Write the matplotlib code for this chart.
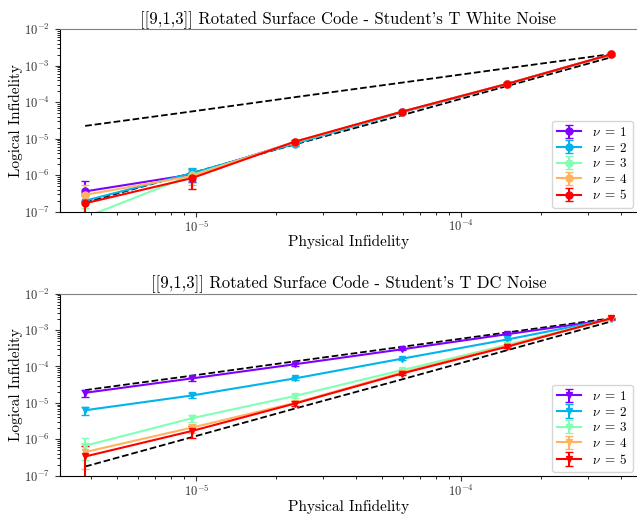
import matplotlib
matplotlib.use('Agg')
import matplotlib.pyplot as plt
import numpy as np

plt.rcParams['font.family'] = ['cmr10', 'DejaVu Serif']
plt.rcParams['mathtext.fontset'] = 'cm'
plt.rcParams['axes.formatter.use_mathtext'] = True

# physical infidelity
p = [3.8e-6, 9.6e-6, 2.35e-5, 5.95e-5, 1.49e-4, 3.68e-4]

# reference lines (linear and quadratic)
ref_lin = [2.25e-5, 5.6e-5, 1.38e-4, 3.45e-4, 8.6e-4, 2.1e-3]
ref_quad = [1.8e-7, 1.15e-6, 7.0e-6, 4.4e-5, 2.8e-4, 1.72e-3]

nus = [1, 2, 3, 4, 5]

# White noise
white = {
    1: [3.6e-7, 1.05e-6, 8.0e-6, 5.4e-5, 3.2e-4, 2.05e-3],
    2: [2.0e-7, 1.13e-6, 7.3e-6, 5.3e-5, 3.15e-4, 2.05e-3],
    3: [7.0e-8, 1.0e-6, 8.0e-6, 5.5e-5, 3.2e-4, 2.05e-3],
    4: [2.9e-7, 9.5e-7, 8.3e-6, 5.5e-5, 3.2e-4, 2.05e-3],
    5: [1.7e-7, 8.3e-7, 8.3e-6, 5.5e-5, 3.2e-4, 2.07e-3],
}
white_err = {
    1: [3.2e-7, 4.0e-7, 9e-7, 3e-6, 1e-5, 3e-5],
    2: [1.2e-7, 4.5e-7, 9e-7, 3e-6, 1e-5, 3e-5],
    3: [6e-8, 4.0e-7, 9e-7, 3e-6, 1e-5, 3e-5],
    4: [2.5e-7, 4.0e-7, 9e-7, 3e-6, 1e-5, 3e-5],
    5: [1.2e-7, 4.0e-7, 9e-7, 3e-6, 1e-5, 3e-5],
}

# DC noise
dc = {
    1: [1.9e-5, 4.7e-5, 1.15e-4, 2.95e-4, 7.7e-4, 1.95e-3],
    2: [6.3e-6, 1.6e-5, 4.7e-5, 1.63e-4, 5.5e-4, 2.0e-3],
    3: [6.7e-7, 3.8e-6, 1.55e-5, 7.9e-5, 3.9e-4, 2.05e-3],
    4: [4.5e-7, 2.1e-6, 1.0e-5, 6.8e-5, 3.7e-4, 2.05e-3],
    5: [3.4e-7, 1.7e-6, 9.6e-6, 6.4e-5, 3.5e-4, 2.1e-3],
}
dc_err = {
    1: [4e-6, 6e-6, 1.2e-5, 2e-5, 4e-5, 5e-5],
    2: [1.5e-6, 2.5e-6, 5e-6, 1e-5, 3e-5, 5e-5],
    3: [4e-7, 8e-7, 2e-6, 5e-6, 2e-5, 5e-5],
    4: [3e-7, 6e-7, 1.5e-6, 4e-6, 2e-5, 5e-5],
    5: [3e-7, 6e-7, 1.5e-6, 4e-6, 2e-5, 5e-5],
}

colors = plt.cm.rainbow(np.linspace(0, 1, len(nus)))

fig = plt.figure(figsize=(6.37, 5.15), dpi=100)
ax1 = fig.add_axes([0.094, 0.589, 0.906, 0.354])
ax2 = fig.add_axes([0.094, 0.076, 0.906, 0.354])

panels = [
    (ax1, white, white_err, 'o', "[[9,1,3]] Rotated Surface Code - Student's T White Noise"),
    (ax2, dc, dc_err, 'v', "[[9,1,3]] Rotated Surface Code - Student's T DC Noise"),
]

for ax, data, err, marker, title in panels:
    ax.plot(p, ref_lin, 'k--', lw=1.3, zorder=1)
    ax.plot(p, ref_quad, 'k--', lw=1.3, zorder=1)
    for nu, c in zip(nus, colors):
        ax.errorbar(p, data[nu], yerr=err[nu], color=c, marker=marker, ms=5,
                    lw=1.5, capsize=3, label=r'$\nu\;=\;%d$' % nu, zorder=2)
    ax.set_xscale('log')
    ax.set_yscale('log')
    ax.set_xlim(3.05e-6, 4.6e-4)
    ax.set_ylim(1e-7, 1e-2)
    ax.set_title(title, fontsize=12, pad=4)
    ax.set_xlabel('Physical Infidelity', fontsize=11, labelpad=0)
    ax.set_ylabel('Logical Infidelity', fontsize=11, labelpad=1)
    ax.tick_params(labelsize=9, colors='0.2')
    ax.tick_params(axis='x', pad=2)
    ax.spines['right'].set_visible(False)
    ax.spines['top'].set_color('0.5')
    ax.legend(loc='lower right', fontsize=9.5, handlelength=1.8,
              labelspacing=0.2, borderaxespad=0.3)

fig.savefig('out.png', dpi=100)
